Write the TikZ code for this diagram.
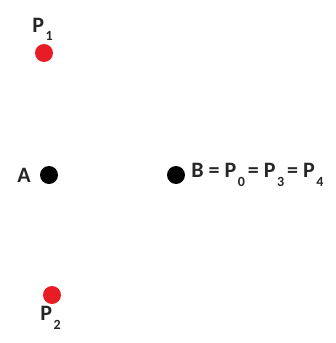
\documentclass[tikz,border=0pt]{standalone}
\usepackage{fontspec}
\setmainfont{Carlito}
\usepackage{xcolor}
\usepackage{tikz}
\usetikzlibrary{positioning}
\definecolor{dotred}{RGB}{232,28,36}
\newcommand{\sub}[1]{\kern1.5pt\raisebox{-0.8ex}{\fontsize{14}{14}\selectfont #1}\kern3pt}

\begin{document}
\begin{tikzpicture}[
  x=1pt, y=-1pt,
  font=\fontsize{22}{24}\selectfont\bfseries,
  dot/.style={circle, inner sep=0pt, minimum size=18pt},
  blackdot/.style={dot, fill=black},
  reddot/.style={dot, fill=dotred},
  lbl/.style={inner sep=1pt, text=black!85}
]
  \useasboundingbox (0,0) rectangle (335,343);
  \node[reddot] (p1) at (44,53) {};
  \node[blackdot] (a) at (49,175) {};
  \node[blackdot] (b) at (176,175) {};
  \node[reddot] (p2) at (52,295) {};
  \node[lbl, above=2pt of p1] (p1lbl) {P\sub{1}};
  \node[lbl, left=8pt of a] (albl) {A};
  \node[lbl, right=5pt of b, anchor=west] (blbl) {B = P\sub{0}= P\sub{3}= P\sub{4}};
  \node[lbl, below=1pt of p2] (p2lbl) {P\sub{2}};
\end{tikzpicture}
\end{document}
